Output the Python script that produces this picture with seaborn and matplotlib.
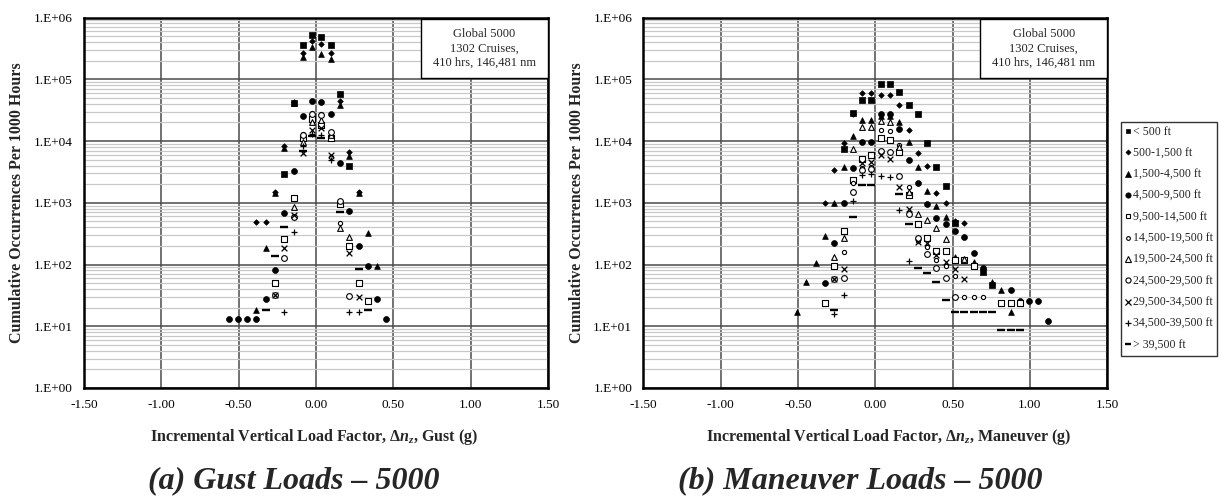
import numpy as np
import pandas as pd
import matplotlib
matplotlib.use("Agg")
import matplotlib.pyplot as plt
import seaborn as sns
from matplotlib.lines import Line2D
from matplotlib.patches import Rectangle
from matplotlib.ticker import FixedLocator, LogLocator, NullFormatter, FixedFormatter

# ---------------- data ----------------
SERIES_LABELS = ["< 500 ft", "500-1,500 ft", "1,500-4,500 ft", "4,500-9,500 ft",
                 "9,500-14,500 ft", "14,500-19,500 ft", "19,500-24,500 ft",
                 "24,500-29,500 ft", "29,500-34,500 ft", "34,500-39,500 ft", "> 39,500 ft"]

# Gust panel
g_lt500_x = [-0.205, -0.145, -0.085, -0.025, 0.035, 0.095, 0.155, 0.215]
g_lt500_y = [2.9e3, 4.1e4, 3.6e5, 5.2e5, 4.8e5, 3.6e5, 5.8e4, 4.0e3]
g_500_x = [-0.385, -0.325, -0.265, -0.205, -0.145, -0.085, -0.025, 0.035, 0.095, 0.155, 0.215, 0.275]
g_500_y = [490, 490, 1.5e3, 8.3e3, 4.3e4, 2.7e5, 4.2e5, 3.7e5, 2.7e5, 4.5e4, 6.6e3, 1.5e3]
g_1500_x = [-0.385, -0.325, -0.265, -0.205, -0.145, -0.085, -0.025, 0.035, 0.095, 0.155, 0.215, 0.275, 0.335, 0.395]
g_1500_y = [18.3, 183, 1.45e3, 7.6e3, 4.1e4, 2.26e5, 3.3e5, 2.6e5, 2.1e5, 3.8e4, 5.7e3, 1.45e3, 327, 95]
g_4500_x = [-0.565, -0.505, -0.445, -0.385, -0.325, -0.265, -0.205, -0.145, -0.085, -0.025, 0.035, 0.095,
            0.155, 0.215, 0.275, 0.335, 0.395, 0.455]
g_4500_y = [13.1, 13.1, 13.1, 13.1, 27.6, 81, 675, 3.3e3, 2.5e4, 4.5e4, 4.3e4, 2.7e4, 4.4e3, 735, 201, 95, 27.6, 13.1]
g_9500_x = [-0.265, -0.205, -0.145, -0.085, -0.025, 0.035, 0.095, 0.155, 0.215, 0.275, 0.335]
g_9500_y = [51, 258, 1.18e3, 1.1e4, 2.3e4, 1.8e4, 1.1e4, 955, 201, 51, 26]
g_14500_x = [-0.205, -0.145, -0.085, -0.025, 0.035, 0.095, 0.155]
g_14500_y = [126, 600, 1.3e4, 2.8e4, 2.7e4, 5.6e3, 475]
g_19500_x = [-0.145, -0.085, -0.025, 0.035, 0.095, 0.155, 0.215]
g_19500_y = [860, 9.8e3, 2.05e4, 2.2e4, 1.25e4, 394, 282]
g_24500_x = [-0.265, -0.205, -0.145, -0.085, -0.025, 0.035, 0.095, 0.155, 0.215]
g_24500_y = [32, 126, 580, 1.25e4, 2.7e4, 2.6e4, 1.4e4, 1.08e3, 31]
g_29500_x = [-0.265, -0.205, -0.145, -0.085, -0.025, 0.035, 0.095, 0.215, 0.275]
g_29500_y = [32, 183, 635, 6.3e3, 1.5e4, 1.6e4, 5.9e3, 155, 30]
g_34500_x = [-0.205, -0.145, -0.085, -0.025, 0.035, 0.095, 0.215, 0.275]
g_34500_y = [16.8, 332, 8.3e3, 1.3e4, 1.25e4, 4.9e3, 16.8, 16.8]
g_39500_x = [-0.325, -0.265, -0.205, -0.085, -0.025, 0.035, 0.155, 0.275, 0.335]
g_39500_y = [18.3, 137, 410, 7e3, 1.2e4, 1.1e4, 700, 83, 18.3]

# Maneuver panel
m_lt500_x = [-0.205, -0.145, -0.085, -0.025, 0.035, 0.095, 0.155, 0.215, 0.275, 0.335, 0.395, 0.455, 0.515, 0.695, 0.755]
m_lt500_y = [7.3e3, 2.8e4, 4.6e4, 4.6e4, 8.3e4, 8.3e4, 6.3e4, 3.9e4, 2.75e4, 9.2e3, 3.75e3, 1.86e3, 465, 76, 47]
m_500_x = [-0.325, -0.265, -0.205, -0.145, -0.085, -0.025, 0.035, 0.095, 0.155, 0.215, 0.275, 0.335, 0.395,
           0.455, 0.515, 0.575]
m_500_y = [980, 3.4e3, 9.2e3, 2.7e4, 5.9e4, 5.9e4, 5.6e4, 5.6e4, 3.8e4, 1.5e4, 6.3e3, 4.0e3, 1.44e3, 980, 500, 470]
m_1500_x = [-0.505, -0.445, -0.385, -0.325, -0.265, -0.205, -0.145, -0.085, -0.025, 0.035, 0.095, 0.155, 0.215,
            0.275, 0.335, 0.395, 0.455, 0.515, 0.635, 0.755, 0.815, 0.875]
m_1500_y = [17, 52, 105, 289, 980, 3.75e3, 1.2e4, 2.15e4, 2.15e4, 2.5e4, 2.5e4, 2.0e4, 9.5e3, 3.75e3, 1.57e3,
            885, 595, 130, 110, 53, 38, 17.2]
m_4500_x = [-0.325, -0.265, -0.205, -0.145, -0.085, -0.025, 0.035, 0.095, 0.155, 0.215, 0.275, 0.335, 0.395,
            0.455, 0.515, 0.575, 0.635, 0.695, 0.875, 0.935, 0.995, 1.055, 1.115]
m_4500_y = [51, 220, 980, 3.6e3, 9.5e3, 9.8e3, 2.7e4, 2.7e4, 1.56e4, 5.0e3, 2.07e3, 955, 560, 453, 353, 282,
            152, 87, 38, 25.6, 25.6, 25.6, 12.3]
m_9500_x = [-0.325, -0.265, -0.205, -0.145, -0.085, -0.025, 0.035, 0.095, 0.155, 0.215, 0.275, 0.335, 0.395,
            0.455, 0.515, 0.575, 0.635, 0.815, 0.875, 0.935]
m_9500_y = [24, 95, 353, 2.3e3, 5.2e3, 5.9e3, 1.1e4, 1.05e4, 6.6e3, 1.34e3, 453, 265, 167, 167, 118, 118, 96, 24, 24, 24]
m_14500_x = [-0.205, -0.145, -0.085, -0.025, 0.035, 0.095, 0.155, 0.215, 0.275, 0.335, 0.395, 0.455, 0.515,
             0.575, 0.635, 0.695]
m_14500_y = [161, 2.1e3, 3.6e3, 3.8e3, 1.5e4, 1.45e4, 8.6e3, 1.82e3, 240, 193, 120, 95, 65, 29.5, 29.5, 29.5]
m_19500_x = [-0.265, -0.205, -0.145, -0.085, -0.025, 0.035, 0.095, 0.155, 0.215, 0.275, 0.335, 0.395, 0.455, 0.575]
m_19500_y = [131, 265, 7.3e3, 1.7e4, 1.7e4, 2.1e4, 2.0e4, 8.0e3, 1.5e3, 660, 525, 394, 259, 125]
m_24500_x = [-0.265, -0.205, -0.145, -0.085, -0.025, 0.035, 0.095, 0.155, 0.215, 0.275, 0.335, 0.395, 0.455, 0.515]
m_24500_y = [59, 60, 1.5e3, 3.4e3, 3.5e3, 6.9e3, 6.6e3, 2.7e3, 660, 265, 148, 87, 60, 29.5]
m_29500_x = [-0.265, -0.205, -0.085, -0.025, 0.035, 0.095, 0.155, 0.215, 0.275, 0.335, 0.395, 0.455, 0.515, 0.575]
m_29500_y = [59, 84, 4.4e3, 4.6e3, 5.9e3, 5.2e3, 1.82e3, 790, 230, 220, 142, 111, 84, 58]
m_34500_x = [-0.265, -0.205, -0.145, -0.085, -0.025, 0.035, 0.095, 0.155, 0.215]
m_34500_y = [15.8, 32, 1.07e3, 2.8e3, 2.9e3, 2.7e3, 2.6e3, 765, 114]
m_39500_x = [-0.265, -0.145, -0.085, -0.025, 0.155, 0.215, 0.275, 0.335, 0.395, 0.455, 0.515, 0.575, 0.635,
             0.695, 0.755, 0.815, 0.875, 0.935]
m_39500_y = [18.3, 595, 1.94e3, 1.94e3, 1.37e3, 450, 87, 72, 53, 26.6, 17.2, 17.2, 17.2, 17.2, 17.2, 8.7, 8.7, 8.7]

X_TICKS = [-1.5, -1.0, -0.5, 0.0, 0.5, 1.0, 1.5]
X_TICK_LABELS = ["-1.50", "-1.00", "-0.50", "0.00", "0.50", "1.00", "1.50"]
Y_TICKS = [1e0, 1e1, 1e2, 1e3, 1e4, 1e5, 1e6]
Y_TICK_LABELS = ["1.E+00", "1.E+01", "1.E+02", "1.E+03", "1.E+04", "1.E+05", "1.E+06"]
INFO_TEXT = "Global 5000\n1302 Cruises,\n410 hrs, 146,481 nm"

gust_series = [(g_lt500_x, g_lt500_y), (g_500_x, g_500_y), (g_1500_x, g_1500_y), (g_4500_x, g_4500_y),
               (g_9500_x, g_9500_y), (g_14500_x, g_14500_y), (g_19500_x, g_19500_y), (g_24500_x, g_24500_y),
               (g_29500_x, g_29500_y), (g_34500_x, g_34500_y), (g_39500_x, g_39500_y)]
man_series = [(m_lt500_x, m_lt500_y), (m_500_x, m_500_y), (m_1500_x, m_1500_y), (m_4500_x, m_4500_y),
              (m_9500_x, m_9500_y), (m_14500_x, m_14500_y), (m_19500_x, m_19500_y), (m_24500_x, m_24500_y),
              (m_29500_x, m_29500_y), (m_34500_x, m_34500_y), (m_39500_x, m_39500_y)]

# marker styles: (marker, filled, scatter size, linewidth)
STYLES = [("s", True, 15, 0.5), ("D", True, 8, 0.5), ("^", True, 17, 0.5), ("o", True, 18, 0.5),
          ("s", False, 15, 0.8), ("o", False, 9, 0.8), ("^", False, 17, 0.8), ("o", False, 17, 0.8),
          ("x", None, 17, 0.9), ("+", None, 19, 0.9), ("_", None, 30, 1.7)]

# ---------------- styling ----------------
sns.set_theme(style="white")
plt.rcParams["font.family"] = ["Liberation Serif", "DejaVu Serif"]
plt.rcParams["mathtext.fontset"] = "custom"
plt.rcParams["mathtext.rm"] = "Liberation Serif:bold"
plt.rcParams["mathtext.it"] = "Liberation Serif:bold:italic"
plt.rcParams["mathtext.bf"] = "Liberation Serif:bold"

W, H = 1221, 497
fig = plt.figure(figsize=(W / 100, H / 100), dpi=100)
fig.patch.set_facecolor("white")


def px_axes(x0, y0, x1, y1):
    return fig.add_axes([x0 / W, 1 - y1 / H, (x1 - x0) / W, (y1 - y0) / H])


ax1 = px_axes(84, 17.5, 548, 388)
ax2 = px_axes(643.3, 17.5, 1107.3, 388)


def draw_panel(ax, series):
    for (xs, ys), (mk, filled, s, lw) in zip(series, STYLES):
        df = pd.DataFrame({"x": xs, "y": ys})
        kw = dict(x="x", y="y", data=df, ax=ax, marker=mk, s=s, linewidth=lw, legend=False, zorder=4)
        if filled is True:
            sns.scatterplot(color="black", edgecolor="black", **kw)
        elif filled is False:
            sns.scatterplot(color="black", facecolor="white", edgecolor="black", **kw)
        else:
            sns.scatterplot(color="black", **kw)
    ax.set_yscale("log")
    ax.set_xlim(-1.5, 1.5)
    ax.set_ylim(1, 1e6)
    ax.xaxis.set_major_locator(FixedLocator(X_TICKS))
    ax.xaxis.set_major_formatter(FixedFormatter(X_TICK_LABELS))
    ax.yaxis.set_major_locator(FixedLocator(Y_TICKS))
    ax.yaxis.set_major_formatter(FixedFormatter(Y_TICK_LABELS))
    ax.yaxis.set_minor_locator(LogLocator(base=10, subs=np.arange(2, 10), numticks=20))
    ax.yaxis.set_minor_formatter(NullFormatter())
    ax.grid(which="minor", axis="y", color="#c8c8c8", lw=0.9, zorder=0)
    ax.grid(which="major", axis="y", color="#4a4a4a", lw=1.1, zorder=1)
    ax.grid(which="major", axis="x", color="#4a4a4a", lw=1.1, zorder=1)
    ax.set_axisbelow(True)
    ax.tick_params(axis="both", which="both", length=0, labelsize=9.5, colors="black")
    ax.tick_params(axis="y", pad=8)
    ax.tick_params(axis="x", pad=8)
    ax.set_xlabel("")
    ax.set_ylabel("")
    for sp in ax.spines.values():
        sp.set_visible(True)
        sp.set_color("black")
        sp.set_linewidth(1.8)
        sp.set_zorder(6)
    # info box
    ax.add_patch(Rectangle((0.726, 0.837), 0.274, 0.159, transform=ax.transAxes, facecolor="white",
                           edgecolor="black", lw=1.0, zorder=7, clip_on=False))
    ax.text(0.863, 0.9165, INFO_TEXT, transform=ax.transAxes, ha="center", va="center",
            fontsize=9, linespacing=1.3, zorder=8)


draw_panel(ax1, gust_series)
draw_panel(ax2, man_series)

# axis titles
for xc in (17, 577):
    fig.text(xc / W, 1 - 203 / H, "Cumulative Occurrences Per 1000 Hours", rotation=90,
             ha="center", va="center", fontsize=11.5, fontweight="bold")
fig.text(314 / W, 1 - 437 / H, r"Incremental Vertical Load Factor, $\Delta n_z$, Gust (g)",
         ha="center", va="center", fontsize=11.5, fontweight="bold")
fig.text(889 / W, 1 - 437 / H, r"Incremental Vertical Load Factor, $\Delta n_z$, Maneuver (g)",
         ha="center", va="center", fontsize=11.5, fontweight="bold")

# panel captions
fig.text(294 / W, 1 - 481 / H, "(a) Gust Loads – 5000", ha="center", va="center",
         fontsize=23, fontweight="bold", fontstyle="italic")
fig.text(860 / W, 1 - 481 / H, "(b) Maneuver Loads – 5000", ha="center", va="center",
         fontsize=23, fontweight="bold", fontstyle="italic")

# legend
handles = []
for mk, filled, s, lw in STYLES:
    if filled is True:
        h = Line2D([], [], ls="", marker=mk, markersize=np.sqrt(s) * 0.9, markerfacecolor="black",
                   markeredgecolor="black", markeredgewidth=lw)
    elif filled is False:
        h = Line2D([], [], ls="", marker=mk, markersize=np.sqrt(s) * 0.9, markerfacecolor="white",
                   markeredgecolor="black", markeredgewidth=lw)
    else:
        h = Line2D([], [], ls="", marker=mk, markersize=np.sqrt(s) * 0.9, color="black", markeredgewidth=lw)
    handles.append(h)
leg = fig.legend(handles, SERIES_LABELS, loc="upper left", bbox_to_anchor=(1121 / W, 1 - 122 / H),
                 frameon=True, fancybox=False, edgecolor="black", prop={"size": 8.6, "family": "Liberation Serif"},
                 labelspacing=0.78, handlelength=0.45, handletextpad=0.2, borderpad=0.35, borderaxespad=0)
leg.get_frame().set_linewidth(1.0)

fig.savefig("out.png", dpi=100, facecolor="white")
